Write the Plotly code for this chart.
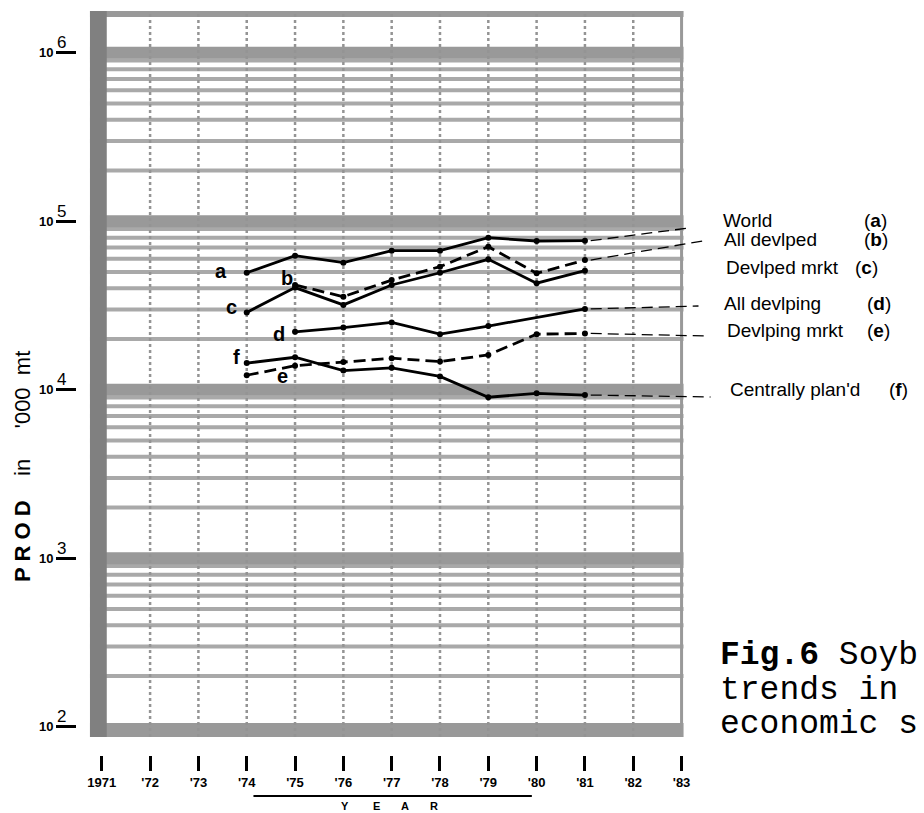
import math
import plotly.graph_objects as go

# ---------------- data (production, '000 mt) ----------------
years_a = [1974, 1975, 1976, 1977, 1978, 1979, 1980, 1981]
world_a = [49500, 62500, 56800, 66900, 66900, 79900, 76400, 76700]

years_b = [1975, 1976, 1977, 1978, 1979, 1980, 1981]
all_devlped_b = [41900, 35700, 44800, 53800, 70700, 49100, 58900]

years_c = [1974, 1975, 1976, 1977, 1978, 1979, 1980, 1981]
devlped_mrkt_c = [28800, 40400, 31900, 41900, 49500, 59500, 42900, 50900]

years_d = [1975, 1976, 1977, 1978, 1979, 1981]
all_devlping_d = [22100, 23400, 25100, 21400, 23900, 30200]

years_e = [1974, 1975, 1976, 1977, 1978, 1979, 1980, 1981]
devlping_mrkt_e = [12200, 13900, 14600, 15400, 14700, 16100, 21400, 21600]

years_f = [1974, 1975, 1976, 1977, 1978, 1979, 1980, 1981]
centrally_plan_f = [14400, 15600, 13000, 13500, 12000, 9030, 9530, 9310]

series_names = ["World", "All devlped", "Devlped mrkt", "All devlping",
                "Devlping mrkt", "Centrally plan'd"]
series_letters = ["a", "b", "c", "d", "e", "f"]

x_tick_years = list(range(1971, 1984))
x_tick_text = ["1971", "'72", "'73", "'74", "'75", "'76", "'77", "'78",
               "'79", "'80", "'81", "'82", "'83"]
y_tick_vals = [1e2, 1e3, 1e4, 1e5, 1e6]
y_tick_exp = ["2", "3", "4", "5", "6"]

# caption as visible in the (cropped) original
caption_lines = ["<b>Fig.6</b> Soyb", "trends in", "economic s"]

# ---------------- layout helpers (pixel geometry) ----------------
W, H = 924, 813
PX_1971, PX_PER_YEAR = 100.0, 48.42
PY_1E4, PX_PER_DECADE = 389.8, 168.5


def xd(px):
    return 1971 + (px - PX_1971) / PX_PER_YEAR


def yl(py):
    """log10 value at a pixel row"""
    return 4 + (PY_1E4 - py) / PX_PER_DECADE


def yv(py):
    """data value at a pixel row"""
    return 10 ** yl(py)


def xp(px):
    return px / W


def yp(py):
    return 1 - py / H


PLOT_L, PLOT_T, PLOT_B = 88, 11, 737
GRID_R = 683

xs_all = [years_a, years_b, years_c, years_d, years_e, years_f]
ys_all = [world_a, all_devlped_b, devlped_mrkt_c, all_devlping_d,
          devlping_mrkt_e, centrally_plan_f]
dashes = ["solid", "12px,6px", "solid", "solid", "12px,6px", "solid"]
label_shift = {"a": (-26, 2), "b": (-8, 7), "c": (-15, 5),
               "d": (-16, -2), "e": (36, -1), "f": (-10, 6)}
right_label_pos = [(721, 220, 862), (722, 239, 862), (724, 267, 853),
                   (722, 303, 865), (725, 330, 865), (728, 390, 887)]
leader_end = {"a": (688, 228), "b": (702, 241), "d": (698, 306),
              "e": (708, 336), "f": (710, 397)}

fig = go.Figure()

# ---------------- graph-paper grid (shapes use data values) ----------------
shapes = []
VY0, VY1 = yv(PLOT_B), yv(PLOT_T)
GX0, GX1 = xd(PLOT_L), xd(GRID_R)
minor_col = "#a9a9a9"
band_col = "#999999"
for k in range(2, 6):
    for m in range(2, 10):
        v = m * 10 ** k
        shapes.append(dict(type="line", xref="x", yref="y", x0=GX0, x1=GX1,
                           y0=v, y1=v, layer="below",
                           line=dict(color=minor_col, width=4)))
for k in range(3, 7):
    shapes.append(dict(type="line", xref="x", yref="y", x0=GX0, x1=GX1,
                       y0=10 ** k, y1=10 ** k, layer="below",
                       line=dict(color=band_col, width=12)))
# bottom and top borders
shapes.append(dict(type="rect", xref="x", yref="y", x0=GX0, x1=GX1,
                   y0=VY0, y1=yv(723), layer="below", fillcolor=band_col,
                   line=dict(width=0)))
shapes.append(dict(type="rect", xref="x", yref="y", x0=GX0, x1=GX1,
                   y0=yv(17), y1=VY1, layer="below", fillcolor=band_col,
                   line=dict(width=0)))
# vertical year lines
for yr in x_tick_years[1:-1]:
    shapes.append(dict(type="line", xref="x", yref="y", x0=yr, x1=yr,
                       y0=VY0, y1=VY1, layer="below",
                       line=dict(color="#949494", width=2.5, dash="dot")))
shapes.append(dict(type="line", xref="x", yref="y", x0=x_tick_years[-1],
                   x1=x_tick_years[-1], y0=VY0, y1=VY1, layer="below",
                   line=dict(color="#999999", width=3)))
# dark left band
shapes.append(dict(type="rect", xref="x", yref="y", x0=GX0, x1=xd(105),
                   y0=VY0, y1=VY1, layer="below", fillcolor="#808080",
                   line=dict(width=0)))

# ---------------- series ----------------
annotations = []
for name, letter, xs, ys, dash in zip(series_names, series_letters,
                                      xs_all, ys_all, dashes):
    fig.add_trace(go.Scatter(
        x=xs, y=ys, mode="lines+markers", name=name,
        line=dict(color="black", width=2.8, dash=dash),
        marker=dict(color="black", size=6),
        showlegend=False, cliponaxis=False))
    dx, dy = label_shift[letter]
    annotations.append(dict(
        x=xs[0], y=math.log10(ys[0]), xref="x", yref="y",
        text=f"<b>{letter}</b>", showarrow=False, xshift=dx, yshift=dy,
        font=dict(size=20, color="black", family="Liberation Sans")))
    if letter in leader_end:
        ex, ey = leader_end[letter]
        shapes.append(dict(type="line", xref="x", yref="y",
                           x0=xs[-1] + 0.12, y0=ys[-1],
                           x1=xd(ex), y1=yv(ey),
                           line=dict(color="black", width=1.3,
                                     dash="11px,6px")))

# right-hand labels
for name, letter, (lx, ly, bx) in zip(series_names, series_letters,
                                      right_label_pos):
    annotations.append(dict(x=xp(lx), y=yp(ly), xref="paper", yref="paper",
                            xanchor="left", yanchor="middle", text=name,
                            showarrow=False,
                            font=dict(size=19, color="black",
                                      family="Liberation Sans")))
    annotations.append(dict(x=xp(bx), y=yp(ly), xref="paper", yref="paper",
                            xanchor="left", yanchor="middle",
                            text=f"(<b>{letter}</b>)", showarrow=False,
                            font=dict(size=19, color="black",
                                      family="Liberation Sans")))

# y tick labels 10^k
for v, e in zip(y_tick_vals, y_tick_exp):
    annotations.append(dict(x=xp(53), y=math.log10(v), xref="paper", yref="y",
                            xanchor="right", yanchor="middle",
                            text="<b>10</b>", showarrow=False, yshift=0,
                            font=dict(size=13, color="black",
                                      family="Liberation Sans")))
    annotations.append(dict(x=xp(53), y=math.log10(v), xref="paper", yref="y",
                            xanchor="left", yanchor="middle",
                            text=e, showarrow=False, yshift=10,
                            font=dict(size=17, color="black",
                                      family="Liberation Sans")))

# y-axis title
nb = "\u00a0"
annotations.append(dict(x=xp(20), y=yp(466), xref="paper", yref="paper",
                        xanchor="center", yanchor="middle", textangle=-90,
                        text=f"<b>P R O D</b>{nb*4}in{nb*5}'000{nb*2}mt",
                        showarrow=False,
                        font=dict(size=22, color="black",
                                  family="Liberation Sans")))

# YEAR title (letter spaced)
for ch, cx in zip("YEAR", [344, 375, 404, 433]):
    annotations.append(dict(x=xp(cx), y=0, xref="paper", yref="paper",
                            xanchor="center", yanchor="bottom", borderpad=0,
                            text=f"<b>{ch}</b>", showarrow=False,
                            font=dict(size=11, color="black",
                                      family="Liberation Sans")))
shapes.append(dict(type="line", xref="paper", yref="paper",
                   x0=xp(252), x1=xp(531), y0=yp(796), y1=yp(796),
                   line=dict(color="black", width=2)))

# caption
for txt, cy in zip(caption_lines, [655, 690, 724]):
    annotations.append(dict(x=xp(718), y=yp(cy), xref="paper", yref="paper",
                            xanchor="left", yanchor="middle", text=txt,
                            showarrow=False,
                            font=dict(size=33, color="black",
                                      family="Liberation Mono")))

# dummy trace to carry the free-floating tick axis
fig.add_trace(go.Scatter(x=[], y=[], xaxis="x2", yaxis="y",
                         showlegend=False, hoverinfo="skip"))

fig.update_layout(
    width=W, height=H,
    margin=dict(l=0, r=0, t=0, b=0),
    paper_bgcolor="white", plot_bgcolor="white",
    font=dict(family="Liberation Sans", color="black"),
    showlegend=False,
    xaxis=dict(domain=[xp(PLOT_L), 1], range=[xd(PLOT_L), xd(W)],
               showgrid=False, zeroline=False, showline=False,
               showticklabels=False, ticks=""),
    xaxis2=dict(overlaying="x", matches="x", anchor="free",
                position=yp(755), side="bottom",
                tickmode="array", tickvals=x_tick_years, ticktext=x_tick_text,
                ticks="outside", ticklen=15, tickwidth=2.5, tickcolor="black",
                tickfont=dict(size=13, color="black", family="Liberation Sans",
                              weight="bold"),
                showgrid=False, zeroline=False, showline=False),
    yaxis=dict(type="log", domain=[yp(PLOT_B), yp(PLOT_T)],
               range=[yl(PLOT_B), yl(PLOT_T)], anchor="free", position=xp(74),
               tickmode="array", tickvals=y_tick_vals,
               ticks="outside", ticklen=20, tickwidth=3, tickcolor="black",
               showticklabels=False, showgrid=False, zeroline=False,
               showline=False),
    shapes=shapes,
    annotations=annotations,
)

fig.write_html("out.html")
